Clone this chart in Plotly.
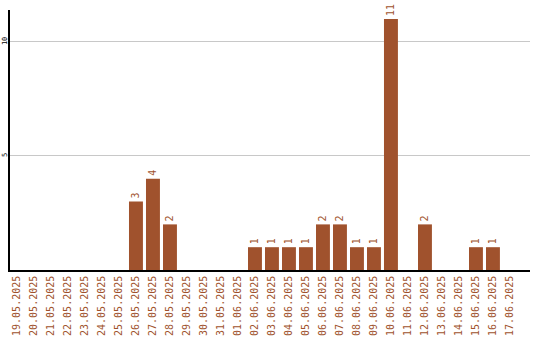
import plotly.graph_objects as go

dates = ["19.05.2025","20.05.2025","21.05.2025","22.05.2025","23.05.2025","24.05.2025","25.05.2025",
         "26.05.2025","27.05.2025","28.05.2025","29.05.2025","30.05.2025","31.05.2025","01.06.2025",
         "02.06.2025","03.06.2025","04.06.2025","05.06.2025","06.06.2025","07.06.2025","08.06.2025",
         "09.06.2025","10.06.2025","11.06.2025","12.06.2025","13.06.2025","14.06.2025","15.06.2025",
         "16.06.2025","17.06.2025"]
counts = [0,0,0,0,0,0,0,3,4,2,0,0,0,0,1,1,1,1,2,2,1,1,11,0,2,0,0,1,1,0]
labels = [str(c) if c > 0 else "" for c in counts]

color = "#A0522D"
fig = go.Figure(go.Bar(
    x=list(range(len(dates))), y=counts, text=labels,
    textposition="outside", textangle=-90,
    textfont=dict(family="DejaVu Sans Mono", size=10, color=color),
    marker=dict(color=color, line=dict(width=0)),
    cliponaxis=False, constraintext="none",
))
fig.update_layout(
    width=540, height=340,
    margin=dict(l=10, r=10, t=10, b=70),
    plot_bgcolor="white", paper_bgcolor="white",
    bargap=0.18, showlegend=False,
)
fig.update_xaxes(
    tickmode="array", tickvals=list(range(len(dates))), ticktext=dates,
    tickangle=-90, tickfont=dict(family="DejaVu Sans Mono", size=10, color=color),
    range=[-0.41, 30.18], showgrid=False, showline=True, linecolor="black", linewidth=1.5,
    ticks="", zeroline=False, automargin=False,
)
fig.update_yaxes(
    range=[0, 11.4], tickvals=[5, 10], tickangle=-90,
    tickfont=dict(family="DejaVu Sans Mono", size=7, color="black"),
    ticklabelstandoff=-2,
    showgrid=True, gridcolor="#c8c8c8", gridwidth=1,
    showline=True, linecolor="black", linewidth=1.5, ticks="", zeroline=False, automargin=False,
)
fig.write_html("out.html")
